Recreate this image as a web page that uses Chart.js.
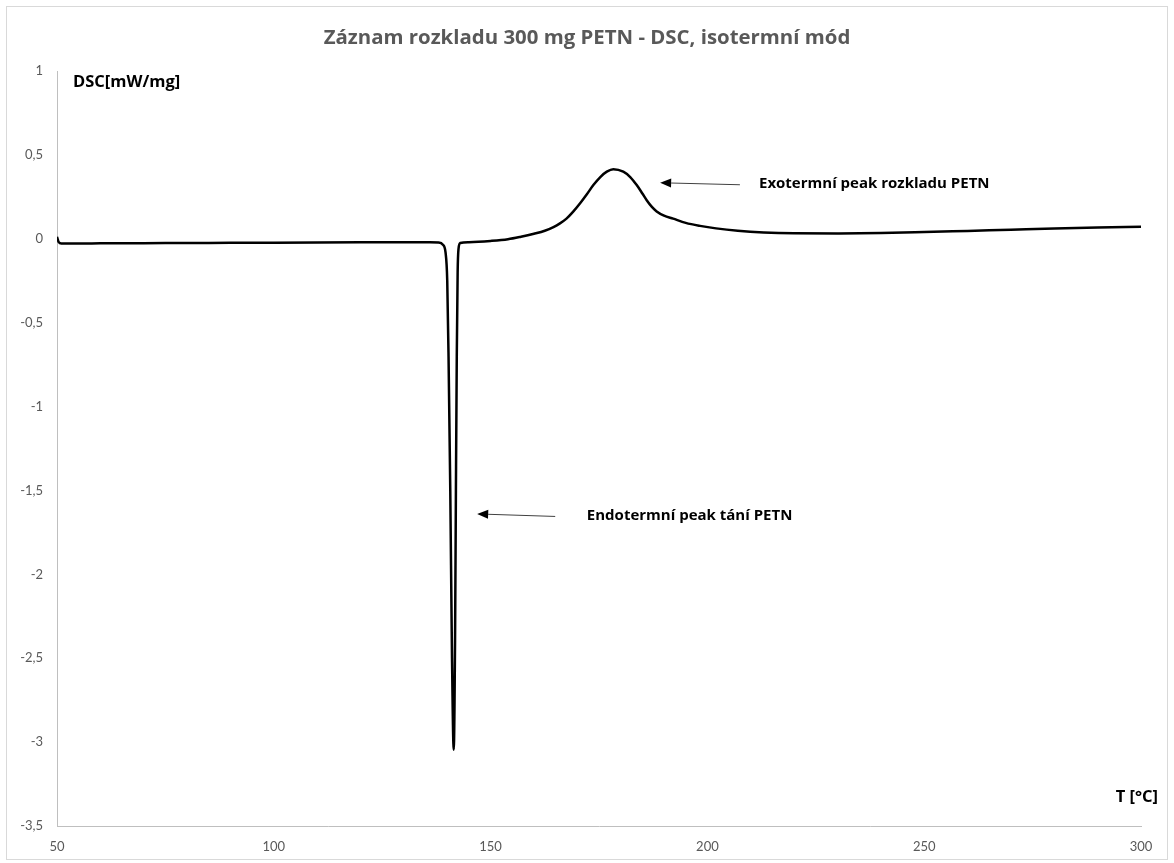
<!DOCTYPE html>
<html>
<head>
<meta charset="utf-8">
<script src="https://cdn.jsdelivr.net/npm/chart.js@4.4.1/dist/chart.umd.min.js"></script>
<style>
  html, body { margin: 0; padding: 0; background: #ffffff; }
  canvas { display: block; }
</style>
</head>
<body>
<canvas id="dsc" width="1174" height="863"></canvas>
<script>
// Temperature [°C] of each recorded point
const tempC = [
  50.0, 50.4, 51.0, 55, 60, 70, 80, 90, 100, 110, 120, 130, 136,
  138.0, 139.0, 139.6, 140.0, 140.3, 140.7, 141.1, 141.5, 141.8, 142.0, 142.2, 142.4, 142.6, 143.0,
  145, 150, 154, 157, 160, 162.5, 164.5, 166, 167.5, 169, 170.6, 172.2, 173.7, 175.3, 176.8, 178.3,
  180.6, 182.2, 183.7, 185, 186.0, 187.2, 188.3, 190, 192.1, 195, 198.3, 202, 207, 213, 220, 230, 240,
  250, 260, 270, 280, 290, 300
];
// Heat flow DSC [mW/mg] at each temperature
const dscValues = [
  0.012, -0.02, -0.028, -0.028, -0.027, -0.026, -0.025, -0.024, -0.023, -0.022, -0.021, -0.020, -0.020,
  -0.022, -0.035, -0.08, -0.25, -0.7, -1.5, -2.5, -3.045, -2.4, -1.5, -0.7, -0.2, -0.06, -0.025,
  -0.02, -0.013, -0.003, 0.012, 0.03, 0.048, 0.07, 0.092, 0.12, 0.16, 0.21, 0.265, 0.32, 0.368, 0.40, 0.415,
  0.40, 0.368, 0.32, 0.27, 0.23, 0.19, 0.163, 0.138, 0.12, 0.095, 0.077, 0.062, 0.048, 0.038, 0.033, 0.032, 0.034,
  0.04, 0.047, 0.054, 0.061, 0.067, 0.072
];
// Axis tick values
const xTickValues = [50, 100, 150, 200, 250, 300];
const yTickValues = [1, 0.5, 0, -0.5, -1, -1.5, -2, -2.5, -3, -3.5];

const titleText = 'Záznam rozkladu 300 mg PETN - DSC, isotermní mód';
const yAxisTitle = 'DSC[mW/mg]';
const xAxisTitle = 'T [°C]';
const endoLabel = 'Endotermní peak tání PETN';
const exoLabel = 'Exotermní peak rozkladu PETN';

// Callouts: arrow tail -> tip and text anchor, in data units (°C, mW/mg)
const callouts = [
  { text: endoLabel, tail: [164.9, -1.655], tip: [146.9, -1.64], textAt: [172.2, -1.65] },
  { text: exoLabel,  tail: [207.5, 0.322],  tip: [189.1, 0.334], textAt: [211.9, 0.328] }
];

const TEXT_FONT = '"Open Sans", Lato, "DejaVu Sans", sans-serif';
const TICK_FONT = 'Lato, "Open Sans", "DejaVu Sans", sans-serif';
const tickColor = '#595959';

const decorations = {
  id: 'decorations',
  afterDraw(chart) {
    const { ctx, scales: { x, y }, width, height } = chart;
    ctx.save();
    // outer frame
    ctx.strokeStyle = '#d9d9d9';
    ctx.lineWidth = 1;
    ctx.strokeRect(6.5, 6.5, width - 13, height - 10);

    // title
    ctx.fillStyle = '#595959';
    ctx.font = 'bold 20.4px ' + TEXT_FONT;
    ctx.textAlign = 'center';
    ctx.textBaseline = 'middle';
    ctx.fillText(titleText, width / 2, 38);

    // axis titles inside the plot
    ctx.fillStyle = '#000000';
    ctx.font = 'bold 16.5px ' + TEXT_FONT;
    ctx.textAlign = 'left';
    ctx.fillText(yAxisTitle, x.left + 16, y.top + 11);
    ctx.textAlign = 'right';
    ctx.fillText(xAxisTitle, x.right + 17, y.bottom - 29);

    // callouts
    callouts.forEach(c => {
      const tx = x.getPixelForValue(c.tail[0]), ty = y.getPixelForValue(c.tail[1]);
      const px = x.getPixelForValue(c.tip[0]), py = y.getPixelForValue(c.tip[1]);
      const ang = Math.atan2(py - ty, px - tx);
      const head = 11, half = 4.5;
      const bx = px - head * Math.cos(ang), by = py - head * Math.sin(ang);
      ctx.strokeStyle = '#404040';
      ctx.lineWidth = 1;
      ctx.beginPath();
      ctx.moveTo(tx, ty);
      ctx.lineTo(bx, by);
      ctx.stroke();
      ctx.fillStyle = '#000000';
      ctx.beginPath();
      ctx.moveTo(px, py);
      ctx.lineTo(bx + half * Math.sin(ang), by - half * Math.cos(ang));
      ctx.lineTo(bx - half * Math.sin(ang), by + half * Math.cos(ang));
      ctx.closePath();
      ctx.fill();

      ctx.font = 'bold 15px ' + TEXT_FONT;
      ctx.textAlign = 'left';
      ctx.textBaseline = 'middle';
      ctx.fillText(c.text, x.getPixelForValue(c.textAt[0]), y.getPixelForValue(c.textAt[1]));
    });
    ctx.restore();
  }
};

new Chart(document.getElementById('dsc'), {
  type: 'line',
  data: {
    datasets: [{
      data: tempC.map((t, i) => ({ x: t, y: dscValues[i] })),
      borderColor: '#000000',
      borderWidth: 2.5,
      pointRadius: 0,
      fill: false,
      cubicInterpolationMode: 'monotone'
    }]
  },
  options: {
    responsive: false,
    animation: false,
    devicePixelRatio: 1,
    layout: { padding: { top: 71, right: 33, left: 0, bottom: 0 } },
    plugins: { legend: { display: false }, tooltip: { enabled: false }, title: { display: false } },
    scales: {
      x: {
        type: 'linear',
        min: 50, max: 300,
        afterBuildTicks: s => { s.ticks = xTickValues.map(v => ({ value: v })); },
        afterFit: s => { s.height = 37; },
        grid: { display: false },
        border: { display: true, color: '#bfbfbf', width: 1 },
        ticks: { color: tickColor, font: { family: TICK_FONT, size: 13 }, padding: 5, maxRotation: 0, autoSkip: false }
      },
      y: {
        type: 'linear',
        min: -3.5, max: 1,
        afterBuildTicks: s => { s.ticks = yTickValues.map(v => ({ value: v })); },
        afterFit: s => { s.width = 57; },
        grid: { display: false },
        border: { display: true, color: '#bfbfbf', width: 1 },
        ticks: {
          color: tickColor, font: { family: TICK_FONT, size: 13 }, padding: 6, autoSkip: false,
          callback: v => String(v).replace('.', ',')
        }
      }
    }
  },
  plugins: [decorations]
});
</script>
</body>
</html>
